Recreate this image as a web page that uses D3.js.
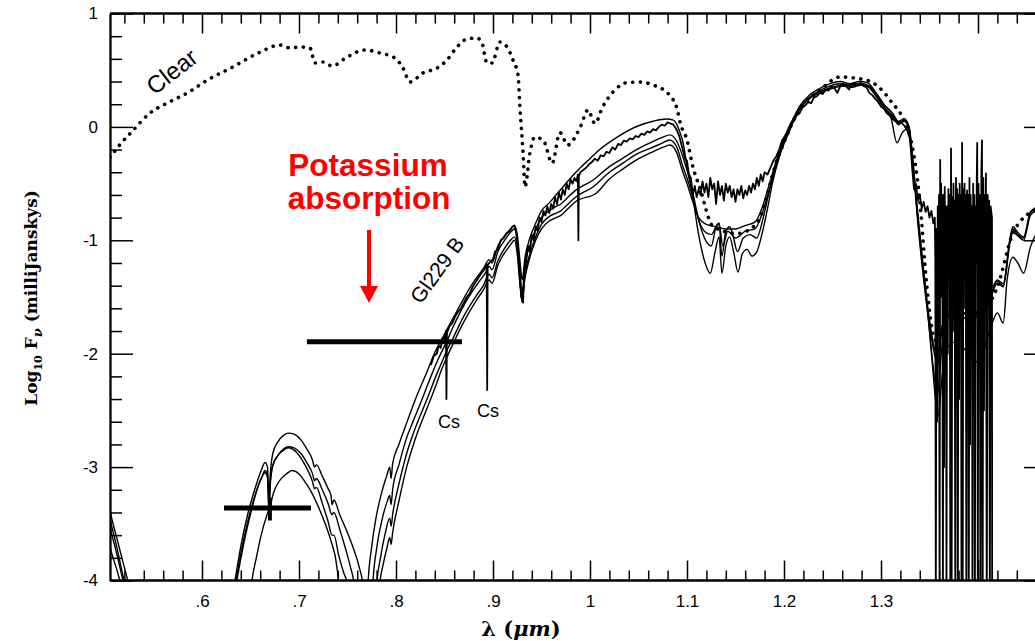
<!DOCTYPE html>
<html>
<head>
<meta charset="utf-8">
<script src="https://cdn.jsdelivr.net/npm/d3@7"></script>
<style>
  html, body { margin: 0; padding: 0; background: #fff; }
  svg { display: block; }
</style>
</head>
<body>
<svg id="chart" width="1035" height="641"></svg>
<script>
// ---------------- DATA (wavelength in micron, log10 flux in mJy) ----------------
const xMajorTicks = [0.6, 0.7, 0.8, 0.9, 1.0, 1.1, 1.2, 1.3, 1.4];
const xTickLabels = [".6", ".7", ".8", ".9", "1", "1.1", "1.2", "1.3", ""];
const yMajorTicks = [-4, -3, -2, -1, 0, 1];
const yTickLabels = ["-4", "-3", "-2", "-1", "0", "1"];

// dotted "Clear" model
const clearModel = [
  [0.505,-0.27],[0.516,-0.15],[0.529,-0.03],[0.546,0.12],[0.564,0.21],[0.585,0.30],[0.605,0.41],
  [0.632,0.53],[0.660,0.66],[0.6804,0.722],[0.6907,0.696],[0.701,0.705],[0.7113,0.696],[0.7165,0.563],
  [0.7247,0.572],[0.734,0.537],[0.7495,0.616],[0.768,0.678],[0.7835,0.651],[0.799,0.607],[0.8072,0.519],
  [0.8144,0.396],[0.8278,0.475],[0.8423,0.519],[0.8526,0.59],[0.8629,0.705],[0.8732,0.775],[0.8835,0.784],
  [0.8887,0.74],[0.8938,0.563],[0.899,0.563],[0.9072,0.749],[0.9144,0.705],[0.9206,0.59],[0.9258,0.458],
  [0.9278,0.167],[0.931,-0.23],[0.933,-0.53],[0.938,-0.23],[0.943,-0.09],[0.952,-0.12],[0.961,-0.32],
  [0.969,-0.05],[0.977,-0.16],[0.99,0.0],[0.998,0.15],[1.005,0.03],[1.013,0.175],[1.024,0.31],
  [1.038,0.39],[1.052,0.395],[1.065,0.37],[1.082,0.28],[1.09,0.15],[1.093,0.035],[1.10,-0.115],
  [1.106,-0.35],[1.113,-0.53],[1.127,-0.88],[1.152,-0.94],[1.172,-0.85],[1.193,-0.29],[1.216,0.15],
  [1.237,0.325],[1.258,0.44],[1.286,0.41],[1.309,0.24],[1.33,-0.09],[1.34,-0.65],[1.347,-1.38],
  [1.356,-1.88],[1.368,-1.70],[1.383,-1.66],[1.405,-1.62],[1.42,-1.41],[1.436,-0.94],[1.459,-0.73],[1.471,-0.70]
];

// solid cloudy models
const modelA = [
  [0.500,-3.15],[0.505,-3.38],[0.512,-3.62],[0.518,-3.82],[0.525,-4.05],[0.540,-4.5],[0.600,-4.9],[0.625,-4.5],
  [0.634,-4.0],[0.640,-3.70],[0.647,-3.42],[0.655,-3.18],[0.661,-3.03],[0.665,-2.96],[0.6675,-3.0],[0.669,-3.28],
  [0.6705,-3.05],[0.673,-2.88],[0.678,-2.78],[0.684,-2.72],[0.689,-2.70],[0.695,-2.71],[0.702,-2.76],[0.708,-2.84],
  [0.714,-2.94],[0.716,-3.0],[0.718,-2.98],[0.724,-3.08],[0.730,-3.19],[0.733,-3.25],[0.734,-3.33],[0.736,-3.29],
  [0.742,-3.42],[0.750,-3.58],[0.757,-3.74],[0.762,-3.88],[0.766,-4.05],[0.768,-4.6],
  [0.770,-4.6],[0.771,-4.05],[0.775,-3.7],[0.780,-3.42],[0.786,-3.2],[0.791,-3.06],[0.7935,-3.0],[0.795,-3.1],
  [0.7965,-2.97],[0.803,-2.8],[0.811,-2.61],[0.822,-2.36],[0.832,-2.16],[0.840,-1.99],[0.848,-1.86],[0.856,-1.73],
  [0.865,-1.59],[0.874,-1.45],[0.883,-1.33],[0.890,-1.25],[0.896,-1.17],[0.899,-1.2],[0.905,-1.05],[0.912,-0.96],
  [0.918,-0.9],[0.922,-0.87],[0.925,-0.95],[0.928,-1.2],[0.930,-1.35],[0.933,-1.15],[0.938,-0.98],[0.944,-0.85],
  [0.950,-0.74],[0.958,-0.67],[0.965,-0.6],[0.972,-0.53],[0.980,-0.45],[0.990,-0.36],[1.000,-0.28],[1.010,-0.2],
  [1.028,-0.09],[1.050,0.01],[1.065,0.05],[1.079,0.07],[1.086,0.06],[1.092,-0.03],[1.096,-0.14],[1.100,-0.35],
  [1.106,-0.62],[1.112,-0.95],[1.118,-1.18],[1.124,-1.29],[1.129,-1.1],[1.133,-0.97],[1.136,-1.29],[1.140,-1.05],
  [1.144,-0.97],[1.148,-1.1],[1.1526,-1.28],[1.157,-1.12],[1.162,-1.08],[1.167,-1.14],[1.172,-1.1],[1.178,-0.92],
  [1.183,-0.72],[1.188,-0.5],[1.195,-0.27],[1.205,-0.05],[1.216,0.16],[1.226,0.26],[1.237,0.32],[1.247,0.36],
  [1.258,0.38],[1.268,0.37],[1.278,0.38],[1.286,0.36],[1.295,0.27],[1.303,0.17],[1.310,0.09],[1.3165,-0.14],
  [1.322,-0.05],[1.327,-0.02],[1.331,-0.2],[1.336,-0.6],[1.342,-1.1],[1.348,-1.6],[1.353,-2.1],[1.3588,-2.55],
  [1.363,-2.2],[1.368,-1.95],[1.375,-1.9],[1.385,-1.95],[1.395,-2.05],[1.402,-2.08],[1.409,-1.88],[1.415,-1.72],
  [1.420,-1.64],[1.426,-1.73],[1.430,-1.35],[1.436,-1.15],[1.441,-1.2],[1.447,-1.29],[1.454,-1.06],[1.460,-0.95],[1.471,-0.9]
];
const modelB = [
  [0.500,-3.3],[0.505,-3.52],[0.512,-3.76],[0.520,-4.05],[0.540,-4.6],[0.600,-5],[0.625,-4.6],[0.636,-4.0],
  [0.642,-3.72],[0.649,-3.45],[0.656,-3.22],[0.662,-3.08],[0.665,-3.03],[0.6675,-3.07],[0.669,-3.35],[0.6705,-3.12],
  [0.673,-2.98],[0.678,-2.9],[0.684,-2.84],[0.689,-2.82],[0.695,-2.83],[0.702,-2.88],[0.708,-2.96],[0.714,-3.06],
  [0.716,-3.12],[0.718,-3.1],[0.724,-3.2],[0.730,-3.32],[0.734,-3.42],[0.736,-3.4],[0.742,-3.55],[0.748,-3.72],
  [0.753,-3.88],[0.757,-4.05],[0.760,-4.6],
  [0.774,-4.6],[0.776,-4.05],[0.780,-3.72],[0.786,-3.45],[0.791,-3.3],[0.7935,-3.25],[0.795,-3.33],[0.7965,-3.2],
  [0.803,-2.98],[0.811,-2.74],[0.817,-2.61],[0.827,-2.4],[0.836,-2.2],[0.845,-2.02],[0.852,-1.9],[0.858,-1.78],
  [0.867,-1.62],[0.878,-1.46],[0.886,-1.36],[0.892,-1.29],[0.896,-1.23],[0.899,-1.26],[0.905,-1.1],[0.912,-1.0],
  [0.918,-0.93],[0.922,-0.9],[0.925,-1.0],[0.928,-1.3],[0.930,-1.48],[0.933,-1.22],[0.938,-1.05],[0.944,-0.9],
  [0.950,-0.8],[0.958,-0.74],[0.965,-0.7],[0.970,-0.68],[0.975,-0.64],[0.985,-0.56],[1.003,-0.47],[1.020,-0.35],
  [1.034,-0.275],[1.048,-0.2],[1.062,-0.14],[1.075,-0.09],[1.0825,-0.07],[1.089,-0.12],[1.0958,-0.265],[1.100,-0.38],
  [1.106,-0.58],[1.112,-0.82],[1.118,-0.98],[1.125,-1.05],[1.130,-0.88],[1.133,-0.85],[1.136,-1.14],[1.140,-0.92],
  [1.144,-0.88],[1.148,-0.98],[1.152,-1.1],[1.158,-0.98],[1.165,-0.95],[1.172,-0.98],[1.178,-0.82],[1.184,-0.6],
  [1.190,-0.4],[1.197,-0.2],[1.205,-0.02],[1.216,0.18],[1.226,0.28],[1.237,0.34],[1.247,0.38],[1.258,0.4],
  [1.268,0.38],[1.278,0.4],[1.286,0.39],[1.295,0.3],[1.303,0.2],[1.312,0.12],[1.318,0.05],[1.324,0.07],
  [1.329,0.0],[1.333,-0.3],[1.338,-0.8],[1.344,-1.3],[1.350,-1.8],[1.355,-2.2],[1.3585,-2.35],[1.362,-2.0],
  [1.366,-1.75],[1.372,-1.66],[1.380,-1.66],[1.390,-1.7],[1.398,-1.68],[1.405,-1.62],[1.412,-1.53],[1.420,-1.38],
  [1.426,-1.41],[1.433,-1.02],[1.436,-0.93],[1.441,-0.96],[1.447,-1.0],[1.454,-0.78],[1.460,-0.74],[1.471,-0.72]
];
const modelC = [
  [0.500,-3.5],[0.505,-3.7],[0.512,-3.9],[0.517,-4.05],[0.540,-4.7],[0.620,-5],[0.645,-4.6],[0.6515,-4.0],
  [0.656,-3.8],[0.661,-3.6],[0.667,-3.42],[0.670,-3.35],[0.674,-3.22],[0.680,-3.12],[0.687,-3.06],[0.693,-3.03],
  [0.700,-3.06],[0.707,-3.14],[0.714,-3.24],[0.720,-3.35],[0.727,-3.5],[0.734,-3.68],[0.738,-3.82],[0.741,-4.05],[0.744,-4.6],
  [0.778,-4.6],[0.780,-4.05],[0.784,-3.8],[0.789,-3.58],[0.7935,-3.45],[0.795,-3.52],[0.7965,-3.42],[0.803,-3.15],
  [0.811,-2.88],[0.818,-2.7],[0.822,-2.61],[0.832,-2.4],[0.842,-2.18],[0.847,-2.08],[0.852,-1.98],[0.859,-1.86],
  [0.868,-1.7],[0.8835,-1.48],[0.890,-1.4],[0.896,-1.3],[0.899,-1.33],[0.905,-1.18],[0.912,-1.07],[0.918,-1.0],
  [0.922,-0.97],[0.925,-1.08],[0.928,-1.38],[0.930,-1.55],[0.933,-1.3],[0.938,-1.12],[0.944,-0.97],[0.950,-0.86],
  [0.958,-0.79],[0.965,-0.76],[0.970,-0.74],[0.975,-0.7],[0.985,-0.62],[1.003,-0.53],[1.020,-0.4],[1.034,-0.32],
  [1.048,-0.24],[1.062,-0.19],[1.075,-0.14],[1.082,-0.115],[1.089,-0.17],[1.0958,-0.35],[1.100,-0.45],[1.106,-0.62],
  [1.112,-0.82],[1.118,-0.92],[1.125,-0.95],[1.130,-0.88],[1.133,-0.85],[1.137,-1.05],[1.142,-0.92],[1.150,-0.98],
  [1.160,-0.92],[1.170,-0.9],[1.178,-0.75],[1.185,-0.55],[1.192,-0.33],[1.200,-0.12],[1.210,0.07],[1.220,0.2],
  [1.230,0.27],[1.240,0.31],[1.250,0.34],[1.260,0.36],[1.270,0.35],[1.280,0.37],[1.288,0.35],[1.296,0.26],
  [1.304,0.16],[1.312,0.09],[1.318,0.03],[1.324,0.05],[1.329,-0.03],[1.333,-0.35],[1.338,-0.85],[1.344,-1.35],
  [1.350,-1.75],[1.355,-2.0],[1.3585,-2.1],[1.362,-1.85],[1.366,-1.7],[1.372,-1.64],[1.380,-1.63],[1.390,-1.66],
  [1.398,-1.66],[1.405,-1.6],[1.412,-1.5],[1.420,-1.36],[1.426,-1.4],[1.433,-1.0],[1.436,-0.9],[1.441,-0.95],
  [1.447,-0.98],[1.454,-0.76],[1.460,-0.72],[1.471,-0.7]
];
const modelD = [
  [0.500,-3.25],[0.505,-3.45],[0.512,-3.7],[0.521,-4.05],[0.540,-4.6],[0.600,-5],[0.625,-4.6],[0.635,-4.0],
  [0.641,-3.72],[0.648,-3.45],[0.655,-3.24],[0.661,-3.1],[0.665,-3.05],[0.6675,-3.09],[0.669,-3.38],[0.6705,-3.14],
  [0.673,-2.99],[0.678,-2.9],[0.684,-2.85],[0.689,-2.83],[0.695,-2.85],[0.702,-2.92],[0.708,-3.01],[0.714,-3.13],
  [0.716,-3.19],[0.718,-3.18],[0.724,-3.32],[0.730,-3.48],[0.734,-3.6],[0.736,-3.6],[0.741,-3.78],[0.746,-3.93],
  [0.7505,-4.05],[0.753,-4.6],
  [0.781,-4.6],[0.783,-4.05],[0.787,-3.85],[0.791,-3.7],[0.7935,-3.62],[0.795,-3.68],[0.7965,-3.58],[0.803,-3.3],
  [0.811,-3.0],[0.818,-2.8],[0.822,-2.7],[0.832,-2.48],[0.842,-2.26],[0.847,-2.14],[0.852,-2.04],[0.859,-1.91],
  [0.868,-1.75],[0.8835,-1.52],[0.890,-1.44],[0.896,-1.35],[0.899,-1.38],[0.905,-1.22],[0.912,-1.11],[0.918,-1.04],
  [0.922,-1.0],[0.925,-1.12],[0.928,-1.4],[0.930,-1.5],[0.933,-1.33],[0.938,-1.15],[0.944,-1.0],[0.950,-0.9],
  [0.958,-0.83],[0.965,-0.8],[0.970,-0.78],[0.975,-0.74],[0.985,-0.66],[1.007,-0.58],[1.020,-0.46],[1.034,-0.37],
  [1.048,-0.29],[1.062,-0.23],[1.075,-0.18],[1.0825,-0.16],[1.089,-0.22],[1.0958,-0.40],[1.100,-0.5],[1.106,-0.66],
  [1.112,-0.8],[1.120,-0.86],[1.130,-0.88],[1.140,-0.9],[1.150,-0.9],[1.160,-0.87],[1.170,-0.84],[1.178,-0.7],
  [1.185,-0.5],[1.192,-0.3],[1.200,-0.1],[1.210,0.08],[1.220,0.2],[1.230,0.28],[1.240,0.32],[1.250,0.35],
  [1.260,0.37],[1.270,0.36],[1.280,0.38],[1.288,0.36],[1.296,0.27],[1.304,0.17],[1.312,0.1],[1.318,0.04],
  [1.324,0.06],[1.329,-0.01],[1.333,-0.32],[1.338,-0.82],[1.344,-1.3],[1.350,-1.7],[1.355,-1.95],[1.3585,-2.0],
  [1.362,-1.8],[1.366,-1.68],[1.372,-1.62],[1.380,-1.62],[1.390,-1.65],[1.398,-1.64],[1.405,-1.58],[1.412,-1.48],
  [1.420,-1.35],[1.426,-1.38],[1.433,-0.98],[1.436,-0.88],[1.441,-0.93],[1.447,-0.97],[1.454,-0.75],[1.460,-0.71],[1.471,-0.69]
];

// observed Gl229 B spectrum
const observedSpectrum = [
  [0.836,-2.1],[0.839,-2.02],[0.842,-2.0],[0.844,-1.93],[0.846,-1.95],[0.848,-1.86],[0.850,-1.87],[0.8515,-1.8],
  [0.852,-2.4],[0.8525,-1.82],[0.855,-1.76],[0.858,-1.73],[0.861,-1.67],[0.864,-1.63],[0.867,-1.6],[0.870,-1.55],
  [0.873,-1.5],[0.876,-1.47],[0.879,-1.41],[0.882,-1.37],[0.885,-1.33],[0.888,-1.29],[0.891,-1.26],[0.8935,-1.21],
  [0.894,-2.32],[0.8945,-1.22],[0.897,-1.19],[0.900,-1.17],[0.902,-1.1],[0.905,-1.08],[0.908,-1.0],[0.911,-0.98],
  [0.914,-0.94],[0.917,-0.92],[0.920,-0.88],[0.922,-0.87],[0.924,-0.93],[0.926,-1.1],[0.928,-1.35],[0.929,-1.5],
  [0.930,-1.42],[0.931,-1.55],[0.932,-1.3],[0.934,-1.2],[0.936,-1.05],[0.938,-1.1],[0.940,-0.95],[0.942,-1.0],
  [0.944,-0.88],[0.946,-0.92],[0.948,-0.8],[0.950,-0.84],[0.952,-0.74],[0.954,-0.78],[0.956,-0.7],[0.958,-0.76],
  [0.960,-0.68],[0.962,-0.72],[0.964,-0.62],[0.966,-0.68],[0.968,-0.58],[0.970,-0.64],[0.972,-0.55],[0.974,-0.6],
  [0.976,-0.5],[0.978,-0.55],[0.980,-0.46],[0.982,-0.5],[0.984,-0.45],[0.986,-0.48],[0.9875,-0.42],[0.988,-1.0],
  [0.9885,-0.44],[0.990,-0.4],[0.993,-0.38],[0.996,-0.36],[0.999,-0.33],[1.002,-0.31],[1.005,-0.28],[1.008,-0.3],
  [1.011,-0.25],[1.014,-0.26],[1.017,-0.22],[1.020,-0.23],[1.023,-0.18],[1.026,-0.2],[1.029,-0.15],[1.032,-0.16],
  [1.035,-0.12],[1.038,-0.13],[1.041,-0.1],[1.044,-0.11],[1.047,-0.08],[1.050,-0.09],[1.053,-0.06],[1.056,-0.07],
  [1.059,-0.04],[1.062,-0.05],[1.065,-0.02],[1.068,-0.03],[1.071,0.0],[1.074,0.02],[1.077,0.01],[1.080,0.04],
  [1.083,0.03],[1.086,0.02],[1.089,-0.02],[1.092,-0.08],[1.095,-0.18],[1.098,-0.28],[1.100,-0.3],[1.102,-0.42],
  [1.104,-0.45],[1.106,-0.6],[1.108,-0.52],[1.110,-0.62],[1.112,-0.55],[1.114,-0.6],[1.116,-0.48],[1.118,-0.58],
  [1.120,-0.5],[1.122,-0.62],[1.124,-0.45],[1.126,-0.55],[1.128,-0.5],[1.130,-0.68],[1.132,-0.48],[1.134,-0.6],
  [1.136,-0.52],[1.138,-0.65],[1.140,-0.5],[1.142,-0.58],[1.144,-0.52],[1.146,-0.62],[1.148,-0.55],[1.150,-0.66],
  [1.152,-0.55],[1.154,-0.6],[1.156,-0.52],[1.158,-0.63],[1.160,-0.56],[1.162,-0.6],[1.164,-0.52],[1.166,-0.58],
  [1.168,-0.5],[1.170,-0.55],[1.172,-0.45],[1.174,-0.52],[1.176,-0.42],[1.178,-0.48],[1.180,-0.4],[1.183,-0.42],
  [1.186,-0.36],[1.189,-0.3],[1.192,-0.26],[1.195,-0.2],[1.198,-0.12],[1.201,-0.08],[1.204,-0.04],[1.207,0.03],
  [1.210,0.05],[1.213,0.1],[1.216,0.12],[1.219,0.17],[1.222,0.19],[1.225,0.22],[1.228,0.21],[1.231,0.26],
  [1.234,0.27],[1.237,0.3],[1.240,0.29],[1.243,0.33],[1.246,0.32],[1.249,0.36],[1.252,0.34],[1.255,0.3],
  [1.258,0.36],[1.261,0.38],[1.264,0.36],[1.267,0.33],[1.270,0.38],[1.273,0.39],[1.276,0.37],[1.279,0.39],
  [1.282,0.36],[1.285,0.35],[1.288,0.3],[1.291,0.28],[1.294,0.25],[1.297,0.22],[1.300,0.18],[1.303,0.16],
  [1.306,0.12],[1.309,0.1],[1.312,0.07],[1.315,0.05],[1.318,0.02],[1.321,0.04],[1.324,0.01],[1.327,-0.03],
  [1.330,-0.1],[1.332,-0.35],[1.334,-0.55],[1.336,-0.5],[1.338,-0.65],[1.340,-0.6],[1.342,-0.72],[1.344,-0.66],
  [1.346,-0.75],[1.348,-0.7],[1.350,-0.8],[1.352,-0.74],[1.354,-0.85],[1.3555,-0.8],
  [1.3560,-1.2],[1.3565,-4.3],[1.3572,-0.9],[1.3578,-2.6],[1.3585,-0.7],[1.3592,-1.4],[1.3598,-0.6],[1.3604,-4.3],
  [1.3610,-0.29],[1.3615,-1.5],[1.3620,-0.5],[1.3626,-1.2],[1.3632,-0.6],[1.3638,-4.3],[1.3645,-0.6],[1.3650,-3.0],
  [1.3657,-0.53],[1.3663,-1.3],[1.3669,-0.7],[1.3675,-4.3],[1.3682,-0.7],[1.3688,-2.0],[1.3695,-0.55],[1.3702,-1.1],
  [1.3709,-0.6],[1.3715,-4.3],[1.3722,-0.19],[1.3728,-4.3],[1.3735,-0.62],[1.3741,-1.8],[1.3747,-0.5],[1.3753,-1.2],
  [1.3759,-0.65],[1.3766,-4.3],[1.3773,-0.45],[1.3780,-1.4],[1.3786,-0.55],[1.3792,-4.3],[1.3799,-0.6],[1.3805,-2.4],
  [1.3811,-0.5],[1.3818,-1.1],[1.3824,-0.6],[1.3830,-4.3],[1.3836,-0.14],[1.3842,-4.3],[1.3849,-0.55],[1.3855,-1.6],
  [1.3861,-0.5],[1.3868,-1.3],[1.3874,-0.6],[1.3880,-4.3],[1.3887,-0.56],[1.3893,-1.2],[1.3899,-0.6],[1.3905,-4.3],
  [1.3912,-0.45],[1.3918,-2.8],[1.3924,-0.6],[1.3931,-1.3],[1.3937,-0.7],[1.3943,-4.3],[1.3950,-0.5],[1.3956,-1.5],
  [1.3962,-0.6],[1.3968,-4.3],[1.3975,-0.7],[1.3981,-1.2],[1.3988,-0.4],[1.3992,-0.14],[1.3998,-4.3],[1.4005,-0.5],
  [1.4012,-1.4],[1.4018,-0.6],[1.4025,-4.3],[1.4035,-0.4],[1.4041,-0.12],[1.4048,-4.3],[1.4055,-0.45],[1.4062,-2.5],
  [1.4070,-0.6],[1.4076,-1.2],[1.4082,-0.41],[1.4090,-4.3],[1.4100,-0.6],[1.4108,-1.5],[1.4115,-0.65],[1.4122,-4.3],
  [1.4130,-0.7],[1.4144,-0.8],[1.4146,-4.3]
];

// broadband photometry bars: [lambda_lo, lambda_hi, log flux]
const photometry = [[0.6227, 0.7124, -3.36], [0.7082, 0.868, -1.895]];
const photometryErr = [[0.670, -3.27, -3.47]];

// ---------------- LAYOUT ----------------
const svg = d3.select("#chart");
const plot = { left: 110, right: 1047, top: 13.5, bottom: 580.5 };
const x = d3.scaleLinear().domain([0.6, 1.3]).range([202, 881]);
const y = d3.scaleLinear().domain([-4, 1]).range([plot.bottom, plot.top]);

svg.append("defs").append("clipPath").attr("id", "clip")
  .append("rect").attr("x", plot.left).attr("y", plot.top)
  .attr("width", plot.right - plot.left).attr("height", plot.bottom - plot.top);

const g = svg.append("g").attr("clip-path", "url(#clip)");

const smooth = d3.line().x(d => x(d[0])).y(d => y(d[1])).curve(d3.curveMonotoneX);
const jagged = d3.line().x(d => x(d[0])).y(d => y(d[1]));

[modelA, modelB, modelC, modelD].forEach(m => {
  g.append("path").attr("d", smooth(m)).attr("fill", "none")
    .attr("stroke", "#000").attr("stroke-width", 1.4).attr("stroke-linejoin", "round");
});
g.append("path").attr("d", jagged(observedSpectrum)).attr("fill", "none")
  .attr("stroke", "#000").attr("stroke-width", 1.8).attr("stroke-linejoin", "round");
g.append("path").attr("d", smooth(clearModel)).attr("fill", "none")
  .attr("stroke", "#000").attr("stroke-width", 3.6).attr("stroke-linecap", "round")
  .attr("stroke-dasharray", "0.1,7.6");

// photometry
g.selectAll("line.phot").data(photometry).join("line").attr("class", "phot")
  .attr("x1", d => x(d[0])).attr("x2", d => x(d[1]))
  .attr("y1", d => y(d[2])).attr("y2", d => y(d[2]))
  .attr("stroke", "#000").attr("stroke-width", 5);
g.selectAll("line.err").data(photometryErr).join("line").attr("class", "err")
  .attr("x1", d => x(d[0])).attr("x2", d => x(d[0]))
  .attr("y1", d => y(d[1])).attr("y2", d => y(d[2]))
  .attr("stroke", "#000").attr("stroke-width", 4);

// ---------------- AXES ----------------
const xMinor = d3.range(52, 148, 2).filter(i => i % 10 !== 0).map(i => i / 100);
const yMinor = d3.range(-19, 5).filter(i => i % 5 !== 0).map(i => i / 5);
const axStyle = sel => {
  sel.selectAll("path.domain").attr("stroke", "#000").attr("stroke-width", 1.8);
  sel.selectAll(".tick line").attr("stroke", "#000").attr("stroke-width", 1.5);
  sel.selectAll("text").attr("font-family", "'Liberation Sans', Arial, sans-serif")
    .attr("font-size", 17).attr("fill", "#000");
};
const xFmt = d => xTickLabels[xMajorTicks.findIndex(v => Math.abs(v - d) < 1e-9)];
const yFmt = d => yTickLabels[yMajorTicks.indexOf(d)];

const gb = svg.append("g").attr("transform", `translate(0,${plot.bottom})`);
gb.append("g").call(d3.axisBottom(x).tickValues(xMajorTicks).tickSize(-20).tickPadding(14.5).tickFormat(xFmt).tickSizeOuter(0)).call(axStyle);
gb.append("g").call(d3.axisBottom(x).tickValues(xMinor).tickSize(-10).tickFormat("").tickSizeOuter(0)).call(axStyle);
const gt = svg.append("g").attr("transform", `translate(0,${plot.top})`);
gt.append("g").call(d3.axisTop(x).tickValues(xMajorTicks).tickSize(-20).tickFormat("").tickSizeOuter(0)).call(axStyle);
gt.append("g").call(d3.axisTop(x).tickValues(xMinor).tickSize(-10).tickFormat("").tickSizeOuter(0)).call(axStyle);
[gb, gt].forEach(a => a.selectAll("path.domain").attr("d", `M${plot.left},0H${plot.right}`));

const gl = svg.append("g").attr("transform", `translate(${plot.left},0)`);
gl.append("g").call(d3.axisLeft(y).tickValues(yMajorTicks).tickSize(-23).tickPadding(12).tickFormat(yFmt).tickSizeOuter(0)).call(axStyle);
gl.append("g").call(d3.axisLeft(y).tickValues(yMinor).tickSize(-12).tickFormat("").tickSizeOuter(0)).call(axStyle);
const gr = svg.append("g").attr("transform", `translate(${plot.right},0)`);
gr.append("g").call(d3.axisRight(y).tickValues(yMajorTicks).tickSize(-23).tickFormat("").tickSizeOuter(0)).call(axStyle);
gr.append("g").call(d3.axisRight(y).tickValues(yMinor).tickSize(-12).tickFormat("").tickSizeOuter(0)).call(axStyle);

// axis titles
const serif = "'DejaVu Serif', 'Liberation Serif', serif";
const xt = svg.append("text").attr("x", 521).attr("y", 636).attr("text-anchor", "middle")
  .attr("font-family", serif).attr("font-weight", "bold").attr("font-size", 21);
xt.append("tspan").text("λ (");
xt.append("tspan").attr("font-style", "italic").text("μm");
xt.append("tspan").text(")");

const yt = svg.append("text").attr("transform", "translate(37,298) rotate(-90)").attr("text-anchor", "middle")
  .attr("font-family", serif).attr("font-weight", "bold").attr("font-size", 17);
yt.append("tspan").text("Log");
yt.append("tspan").attr("font-size", 11).attr("dy", 5).text("10");
yt.append("tspan").attr("dy", -5).text(" F");
yt.append("tspan").attr("font-size", 13).attr("font-style", "italic").attr("dy", 5).text("ν");
yt.append("tspan").attr("dy", -5).text("  (milliJanskys)");

// annotations
const sans = "'Liberation Sans', Arial, sans-serif";
svg.append("text").attr("transform", `translate(${x(0.5742)},${y(0.43)}) rotate(-38)`)
  .attr("text-anchor", "middle").attr("font-family", sans).attr("font-size", 24).text("Clear");
svg.append("text").attr("transform", `translate(${x(0.8484)},${y(-1.3)}) rotate(-54)`)
  .attr("text-anchor", "middle").attr("font-family", sans).attr("font-size", 21).text("Gl229 B");
svg.append("text").attr("x", x(0.8546)).attr("y", y(-2.655)).attr("text-anchor", "middle")
  .attr("font-family", sans).attr("font-size", 18).text("Cs");
svg.append("text").attr("x", x(0.8948)).attr("y", y(-2.558)).attr("text-anchor", "middle")
  .attr("font-family", sans).attr("font-size", 18).text("Cs");

const red = "#ff0000";
svg.append("text").attr("x", 368).attr("y", 176).attr("text-anchor", "middle")
  .attr("font-family", sans).attr("font-weight", "bold").attr("font-size", 31.5).attr("fill", red).text("Potassium");
svg.append("text").attr("x", 369).attr("y", 209).attr("text-anchor", "middle")
  .attr("font-family", sans).attr("font-weight", "bold").attr("font-size", 31.5).attr("fill", red).text("absorption");
svg.append("line").attr("x1", 369).attr("x2", 369).attr("y1", 230).attr("y2", 288)
  .attr("stroke", red).attr("stroke-width", 4);
svg.append("path").attr("d", "M360,286L378,286L369,303Z").attr("fill", red);
</script>
</body>
</html>
